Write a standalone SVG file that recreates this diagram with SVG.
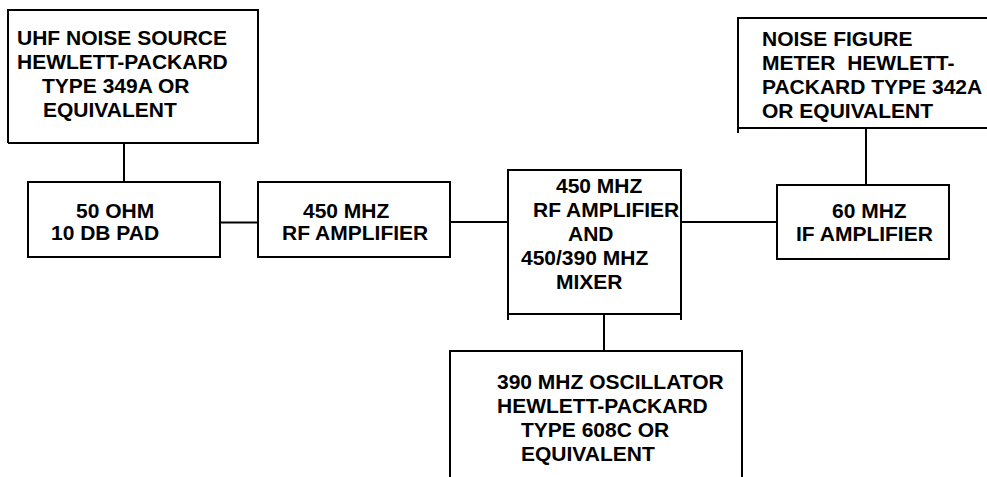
<svg xmlns="http://www.w3.org/2000/svg" width="987" height="477" viewBox="0 0 987 477">
<style>
.box{fill:none;stroke:#000;stroke-width:2}
.wire{fill:none;stroke:#000;stroke-width:2}
text{font-family:"Liberation Sans",Arial,sans-serif;font-weight:bold;font-size:21px;fill:#000}
</style>
<rect width="987" height="477" fill="#fff"/>
<g id="connectors">
<path class="wire" d="M124 143V182"/>
<path class="wire" d="M220 222.5H258"/>
<path class="wire" d="M450 222H508"/>
<path class="wire" d="M681 222H777"/>
<path class="wire" d="M866 185V127"/>
<path class="wire" d="M604 314V351"/>
</g>
<g id="uhf-noise-source">
<path class="box" d="M8 143V10H258V143H8"/>
<text x="17" y="45">UHF NOISE SOURCE</text>
<text x="17" y="69">HEWLETT-PACKARD</text>
<text x="42" y="93">TYPE 349A OR</text>
<text x="43" y="117">EQUIVALENT</text>
</g>
<g id="pad">
<path class="box" d="M28 258V182H220V258M28 257H220"/>
<text x="76" y="218">50 OHM</text>
<text x="51" y="240">10 DB PAD</text>
</g>
<g id="rf-amplifier">
<path class="box" d="M258 258V182H450V258M258 257H450"/>
<text x="303" y="218">450 MHZ</text>
<text x="282" y="240">RF AMPLIFIER</text>
</g>
<g id="mixer">
<path class="box" d="M508 320V170H681V320M508 314H681"/>
<text x="556" y="193">450 MHZ</text>
<text x="533" y="217">RF AMPLIFIER</text>
<text x="568" y="241">AND</text>
<text x="521" y="265">450/390 MHZ</text>
<text x="556" y="289">MIXER</text>
</g>
<g id="if-amplifier">
<path class="box" d="M777 185H949V259H777Z"/>
<text x="832" y="218">60 MHZ</text>
<text x="796" y="241">IF AMPLIFIER</text>
</g>
<g id="noise-figure-meter">
<path class="box" d="M738 133V18H990M738 128H990"/>
<text x="762" y="46">NOISE FIGURE</text>
<text x="762" y="70" xml:space="preserve">METER  HEWLETT-</text>
<text x="762" y="94">PACKARD TYPE 342A</text>
<text x="762" y="118">OR EQUIVALENT</text>
</g>
<g id="oscillator">
<path class="box" d="M450 480V351H742V480"/>
<text x="497" y="389">390 MHZ OSCILLATOR</text>
<text x="497" y="413">HEWLETT-PACKARD</text>
<text x="521" y="437">TYPE 608C OR</text>
<text x="521" y="461">EQUIVALENT</text>
</g>
</svg>
